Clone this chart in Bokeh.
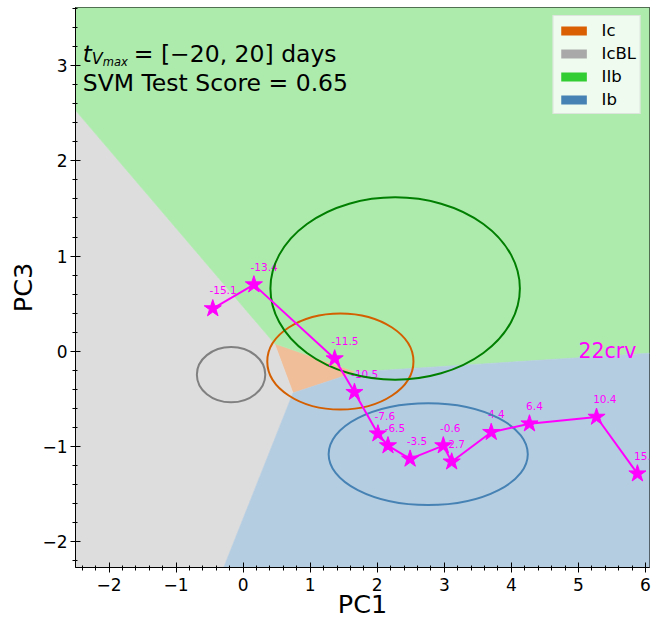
import numpy as np
from bokeh.plotting import figure
from bokeh.models import (Range1d, Label, Legend, LegendItem, ColumnDataSource,
                          FixedTicker, Title)
from bokeh.core.properties import value
from bokeh.embed import file_html
from bokeh.resources import INLINE

FONT = "DejaVu Sans"

# Plot extents in PC space
x_lim = (-2.5, 6.06)
y_lim = (-2.27, 3.61)

# Class names and colours
class_names = ["Ic", "IcBL", "IIb", "Ib"]
class_colors = ["#d95f02", "#a9a9a9", "#32cd32", "#4682b4"]
region_colors = ["#f0bf9a", "#dddddd", "#adebad", "#b5cde1"]   # class colours at 40% on white
ellipse_colors = ["#d45f00", "#808080", "#007f00", "#4682b4"]

# SVM decision regions (polygon vertices in PC1/PC3)
ic_x = [0.468, 1.69, 0.743]
ic_y = [0.081, -0.217, -0.438]
icbl_x = [-2.5, 0.468, 0.743, -0.29, -2.5]
icbl_y = [2.53, 0.081, -0.438, -2.27, -2.27]
iib_x = [-2.5, 6.06, 6.06, 1.69, 0.468, -2.5]
iib_y = [3.61, 3.61, -0.02, -0.217, 0.081, 2.53]
ib_x = [0.743, 1.69, 6.06, 6.06, -0.29]
ib_y = [-0.438, -0.217, -0.02, -2.27, -2.27]

# One-sigma ellipses of each class (centre, full width, full height)
ell_x = [1.45, -0.18, 2.267, 2.76]
ell_y = [-0.107, -0.245, 0.66, -1.08]
ell_w = [2.18, 1.02, 3.72, 2.97]
ell_h = [1.01, 0.58, 1.915, 1.07]

# SN 2022crv trajectory: phase relative to V max, PC1, PC3
phase = [-15.1, -13.4, -11.5, -10.5, -7.6, -6.5, -3.5, -0.6, 2.7, 4.4, 6.4, 10.4, 15.7]
pc1 = [-0.453, 0.16, 1.365, 1.66, 2.01, 2.16, 2.49, 2.985, 3.11, 3.70, 4.27, 5.27, 5.88]
pc3 = [0.449, 0.70, -0.077, -0.43, -0.865, -0.99, -1.13, -0.99, -1.16, -0.85, -0.76, -0.69, -1.285]

x_ticks = [-2, -1, 0, 1, 2, 3, 4, 5, 6]
y_ticks = [-2, -1, 0, 1, 2, 3]

p = figure(width=668, height=618,
           x_range=Range1d(*x_lim), y_range=Range1d(*y_lim),
           output_backend="svg", toolbar_location=None,
           min_border_left=75, min_border_right=19,
           min_border_top=7, min_border_bottom=51)
p.grid.visible = False
p.outline_line_color = "black"
p.outline_line_width = 1
p.outline_line_alpha = 1.0
p.background_fill_color = "white"
p.border_fill_color = "white"

# decision regions
region_polys = [(ic_x, ic_y), (icbl_x, icbl_y), (iib_x, iib_y), (ib_x, ib_y)]
for (xs, ys), col in zip(region_polys, region_colors):
    p.patch(xs, ys, fill_color=col, line_color=col, line_width=0.6)

# phase labels next to each epoch
lab_src = ColumnDataSource(dict(
    x=[v - 0.05 for v in pc1],
    y=[v + 0.19 for v in pc3],
    text=[f"{v:.1f}" for v in phase],
))
p.text(x="x", y="y", text="text", source=lab_src, text_color="#ff00ff",
       text_font=value(FONT), text_font_size="10.5px",
       text_align="left", text_baseline="alphabetic")

# class ellipses
ell_src = ColumnDataSource(dict(x=ell_x, y=ell_y, w=ell_w, h=ell_h, c=ellipse_colors))
p.ellipse(x="x", y="y", width="w", height="h", source=ell_src,
          fill_alpha=0, line_color="c", line_width=2)

# trajectory
p.line(pc1, pc3, line_color="#ff00ff", line_width=2)
p.scatter(pc1, pc3, marker="star", size=18, fill_color="#ff00ff",
          line_color="#ff00ff")

p.add_layout(Label(x=5.0, y=0.0, text="22crv", text_color="#ff00ff",
                   text_font=FONT, text_font_size="20.5px",
                   text_baseline="alphabetic"))

# header text
tx, ty1, ty2 = -2.392, 3.12, 2.815
hdr = dict(text_font=FONT, text_color="black", text_baseline="alphabetic")
p.add_layout(Label(x=tx, y=ty1, text="t", text_font_size="23px",
                   text_font_style="italic", **hdr))
p.add_layout(Label(x=tx, y=ty1, x_offset=9, y_offset=-4, text="V",
                   text_font_size="16px", text_font_style="italic", **hdr))
p.add_layout(Label(x=tx, y=ty1, x_offset=20, y_offset=-8, text="max",
                   text_font_size="11.5px", text_font_style="italic", **hdr))
p.add_layout(Label(x=tx, y=ty1, x_offset=51, text="= [\u221220, 20] days",
                   text_font_size="23.5px", **hdr))
p.add_layout(Label(x=tx, y=ty2, text="SVM Test Score = 0.65",
                   text_font_size="23.5px", **hdr))

# legend swatches (renderers kept off-canvas with NaN geometry)
items = []
for name, col in zip(class_names, class_colors):
    r = p.quad(left=[np.nan], right=[np.nan], top=[np.nan], bottom=[np.nan],
               fill_color=col, line_color=None)
    items.append(LegendItem(label=name, renderers=[r]))
legend = Legend(items=items, location="top_right", margin=8, padding=4,
                spacing=3, label_height=20, glyph_width=32, glyph_height=11,
                label_standoff=12, label_text_font=FONT,
                label_text_font_size="16.5px", label_text_color="black",
                background_fill_color="white", background_fill_alpha=0.8,
                border_line_color="#cccccc", border_line_width=1)
p.add_layout(legend)

# axes
minor_x = [round(v, 1) for v in np.arange(-2.4, 6.05, 0.2)]
minor_y = [round(v, 1) for v in np.arange(-2.2, 3.65, 0.2)]
p.xaxis.ticker = FixedTicker(ticks=x_ticks, minor_ticks=minor_x)
p.yaxis.ticker = FixedTicker(ticks=y_ticks, minor_ticks=minor_y)
p.xaxis.major_label_overrides = {t: (f"\u2212{abs(t)}" if t < 0 else str(t)) for t in x_ticks}
p.yaxis.major_label_overrides = {t: (f"\u2212{abs(t)}" if t < 0 else str(t)) for t in y_ticks}
for ax in (p.xaxis[0], p.yaxis[0]):
    ax.axis_line_color = "black"
    ax.major_tick_line_color = "black"
    ax.minor_tick_line_color = "black"
    ax.major_tick_in = 5
    ax.major_tick_out = 5
    ax.minor_tick_in = 2
    ax.minor_tick_out = 3
    ax.major_label_text_font = FONT
    ax.major_label_text_font_size = "17px"
    ax.major_label_text_color = "black"
p.xaxis[0].major_label_standoff = 5
p.yaxis[0].major_label_standoff = 3

# axis titles, set in the side panels
p.add_layout(Title(text="PC1", align="center", offset=-27, standoff=-13,
                   text_font=FONT, text_font_size="25.5px",
                   text_font_style="normal", text_color="black"), "below")
p.add_layout(Title(text="PC3", align="center", offset=-30, standoff=3,
                   text_font=FONT, text_font_size="25.5px",
                   text_font_style="normal", text_color="black"), "left")

open("out.html", "w").write(file_html(p, INLINE))
